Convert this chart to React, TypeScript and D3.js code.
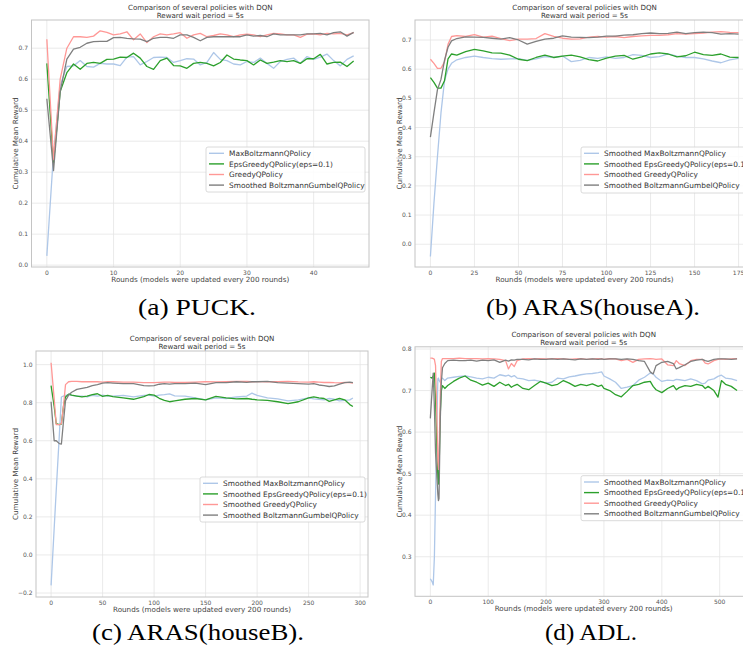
import React from 'react';
import * as d3 from 'd3';

const W = 743;
const H = 658;
const COLORS = ['#aec7e8', '#2ca02c', '#ff9896', '#7f7f7f'];
const FONT = 'DejaVu Sans, sans-serif';

// (a) PUCK
const roundsA = d3.range(47);
const maxBoltzA = [0.03, 0.36, 0.58, 0.641, 0.643, 0.66, 0.641, 0.639, 0.651, 0.649, 0.649, 0.644, 0.671, 0.673, 0.646, 0.657, 0.67, 0.671, 0.67, 0.654, 0.66, 0.666, 0.665, 0.646, 0.654, 0.686, 0.664, 0.66, 0.649, 0.646, 0.657, 0.654, 0.668, 0.651, 0.635, 0.657, 0.664, 0.668, 0.651, 0.673, 0.664, 0.671, 0.681, 0.66, 0.643, 0.664, 0.675];
const epsGreedyA = [0.651, 0.33, 0.56, 0.621, 0.649, 0.632, 0.651, 0.654, 0.651, 0.664, 0.665, 0.671, 0.67, 0.684, 0.668, 0.641, 0.632, 0.66, 0.668, 0.644, 0.643, 0.635, 0.651, 0.654, 0.651, 0.643, 0.654, 0.678, 0.665, 0.662, 0.66, 0.646, 0.662, 0.651, 0.655, 0.66, 0.657, 0.66, 0.651, 0.666, 0.666, 0.68, 0.649, 0.654, 0.655, 0.641, 0.659];
const greedyA = [0.729, 0.34, 0.6, 0.7, 0.737, 0.737, 0.735, 0.739, 0.756, 0.751, 0.743, 0.746, 0.753, 0.727, 0.746, 0.718, 0.737, 0.746, 0.743, 0.746, 0.75, 0.732, 0.743, 0.748, 0.737, 0.741, 0.746, 0.743, 0.737, 0.743, 0.745, 0.743, 0.737, 0.743, 0.748, 0.746, 0.743, 0.743, 0.735, 0.745, 0.746, 0.743, 0.748, 0.746, 0.748, 0.743, 0.75];
const gumbelA = [0.537, 0.305, 0.56, 0.665, 0.697, 0.703, 0.716, 0.721, 0.722, 0.722, 0.734, 0.735, 0.732, 0.73, 0.729, 0.721, 0.732, 0.735, 0.735, 0.732, 0.743, 0.743, 0.735, 0.724, 0.735, 0.737, 0.737, 0.737, 0.737, 0.737, 0.743, 0.739, 0.741, 0.737, 0.746, 0.743, 0.743, 0.743, 0.743, 0.746, 0.746, 0.748, 0.743, 0.75, 0.753, 0.739, 0.751];

// (b) ARAS houseA
const roundsB = [0, 2, 4, 6, 8, 10, 12, 15, 20, 25, 30, 35, 40, 45, 50, 55, 60, 65, 70, 75, 80, 85, 90, 95, 100, 105, 110, 115, 120, 125, 130, 135, 140, 145, 150, 155, 160, 165, 170, 175];
const maxBoltzB = [-0.042, 0.14, 0.3, 0.45, 0.56, 0.6, 0.62, 0.632, 0.64, 0.645, 0.64, 0.636, 0.634, 0.635, 0.636, 0.63, 0.635, 0.643, 0.64, 0.645, 0.626, 0.63, 0.64, 0.637, 0.642, 0.637, 0.64, 0.65, 0.647, 0.64, 0.643, 0.652, 0.645, 0.64, 0.64, 0.635, 0.628, 0.622, 0.632, 0.637];
const epsGreedyB = [0.571, 0.555, 0.535, 0.535, 0.56, 0.635, 0.652, 0.648, 0.66, 0.668, 0.663, 0.656, 0.655, 0.648, 0.634, 0.629, 0.64, 0.648, 0.64, 0.645, 0.648, 0.642, 0.633, 0.628, 0.638, 0.645, 0.647, 0.634, 0.642, 0.652, 0.656, 0.652, 0.642, 0.646, 0.658, 0.65, 0.647, 0.652, 0.641, 0.64];
const greedyB = [0.634, 0.62, 0.603, 0.603, 0.625, 0.685, 0.712, 0.715, 0.712, 0.718, 0.71, 0.713, 0.705, 0.698, 0.703, 0.703, 0.705, 0.722, 0.712, 0.706, 0.703, 0.704, 0.71, 0.712, 0.71, 0.712, 0.708, 0.712, 0.714, 0.716, 0.716, 0.718, 0.722, 0.72, 0.722, 0.724, 0.727, 0.729, 0.726, 0.725];
const gumbelB = [0.367, 0.45, 0.53, 0.565, 0.63, 0.675, 0.697, 0.705, 0.711, 0.71, 0.709, 0.706, 0.703, 0.708, 0.7, 0.686, 0.695, 0.703, 0.706, 0.714, 0.71, 0.709, 0.708, 0.71, 0.713, 0.713, 0.717, 0.718, 0.722, 0.724, 0.722, 0.723, 0.727, 0.722, 0.725, 0.727, 0.725, 0.72, 0.722, 0.72];

// (c) ARAS houseB
const roundsC = [0, 3, 5, 8, 10, 12, 14, 17, 20, 25, 30, 35, 40, 45, 50, 55, 60, 70, 80, 90, 95, 100, 105, 110, 115, 120, 130, 140, 150, 160, 170, 180, 190, 195, 200, 210, 220, 230, 240, 250, 255, 260, 265, 270, 275, 280, 285, 290, 293];
const maxBoltzC = [-0.16, 0.14, 0.34, 0.63, 0.83, 0.835, 0.838, 0.842, 0.838, 0.835, 0.835, 0.83, 0.838, 0.835, 0.84, 0.835, 0.835, 0.838, 0.83, 0.838, 0.84, 0.835, 0.84, 0.842, 0.846, 0.836, 0.835, 0.825, 0.815, 0.825, 0.822, 0.83, 0.835, 0.85, 0.838, 0.825, 0.82, 0.81, 0.815, 0.825, 0.82, 0.818, 0.815, 0.822, 0.818, 0.81, 0.812, 0.815, 0.825];
const epsGreedyC = [0.89, 0.78, 0.69, 0.685, 0.688, 0.78, 0.83, 0.845, 0.84, 0.835, 0.83, 0.835, 0.842, 0.847, 0.833, 0.838, 0.832, 0.825, 0.818, 0.832, 0.843, 0.84, 0.823, 0.812, 0.805, 0.81, 0.818, 0.822, 0.815, 0.833, 0.825, 0.82, 0.822, 0.818, 0.815, 0.812, 0.805, 0.795, 0.805, 0.825, 0.83, 0.825, 0.822, 0.807, 0.815, 0.822, 0.815, 0.79, 0.78];
const greedyC = [1.01, 0.82, 0.685, 0.685, 0.69, 0.78, 0.895, 0.91, 0.912, 0.912, 0.91, 0.91, 0.91, 0.91, 0.908, 0.91, 0.91, 0.908, 0.908, 0.905, 0.905, 0.905, 0.907, 0.908, 0.908, 0.906, 0.907, 0.908, 0.91, 0.909, 0.91, 0.912, 0.912, 0.91, 0.911, 0.91, 0.91, 0.912, 0.909, 0.908, 0.91, 0.908, 0.906, 0.907, 0.905, 0.904, 0.906, 0.905, 0.903];
const gumbelC = [0.805, 0.6, 0.6, 0.585, 0.583, 0.7, 0.81, 0.84, 0.855, 0.87, 0.875, 0.88, 0.89, 0.895, 0.903, 0.905, 0.903, 0.9, 0.9, 0.89, 0.888, 0.89, 0.897, 0.9, 0.898, 0.9, 0.9, 0.903, 0.895, 0.905, 0.905, 0.91, 0.907, 0.91, 0.91, 0.912, 0.905, 0.903, 0.9, 0.898, 0.9, 0.893, 0.89, 0.885, 0.888, 0.897, 0.905, 0.908, 0.905];

// (d) ADL
const roundsD = [0, 3, 5, 7, 9, 11, 13, 14, 15, 17, 19, 21, 25, 30, 40, 50, 60, 70, 80, 90, 100, 110, 120, 130, 135, 140, 145, 150, 160, 170, 180, 190, 200, 210, 220, 230, 240, 250, 260, 270, 280, 290, 296, 300, 310, 320, 330, 340, 350, 360, 370, 380, 385, 390, 400, 410, 420, 425, 430, 440, 450, 460, 470, 475, 480, 490, 497, 503, 510, 520, 530];
const maxBoltzD = [0.247, 0.24, 0.232, 0.3, 0.45, 0.6, 0.728, 0.73, 0.725, 0.72, 0.728, 0.73, 0.724, 0.73, 0.732, 0.734, 0.735, 0.733, 0.73, 0.728, 0.732, 0.73, 0.738, 0.735, 0.737, 0.733, 0.736, 0.73, 0.728, 0.724, 0.725, 0.722, 0.718, 0.72, 0.73, 0.728, 0.733, 0.735, 0.738, 0.74, 0.741, 0.743, 0.745, 0.735, 0.728, 0.72, 0.705, 0.708, 0.712, 0.725, 0.732, 0.742, 0.74, 0.732, 0.722, 0.725, 0.724, 0.727, 0.726, 0.724, 0.728, 0.724, 0.716, 0.718, 0.725, 0.728, 0.734, 0.737, 0.73, 0.728, 0.724];
const epsGreedyD = [0.732, 0.73, 0.735, 0.742, 0.68, 0.58, 0.49, 0.475, 0.5, 0.64, 0.7, 0.712, 0.705, 0.712, 0.722, 0.73, 0.735, 0.725, 0.72, 0.713, 0.718, 0.71, 0.72, 0.712, 0.715, 0.708, 0.712, 0.715, 0.705, 0.702, 0.712, 0.722, 0.718, 0.712, 0.715, 0.724, 0.718, 0.71, 0.715, 0.712, 0.716, 0.71, 0.713, 0.705, 0.7, 0.69, 0.685, 0.698, 0.712, 0.715, 0.72, 0.722, 0.71, 0.702, 0.695, 0.705, 0.712, 0.702, 0.707, 0.712, 0.71, 0.715, 0.712, 0.705, 0.71, 0.7, 0.684, 0.724, 0.715, 0.71, 0.7];
const greedyD = [0.778, 0.778, 0.777, 0.775, 0.76, 0.65, 0.53, 0.51, 0.54, 0.68, 0.77, 0.777, 0.777, 0.777, 0.777, 0.778, 0.777, 0.777, 0.777, 0.776, 0.777, 0.776, 0.775, 0.772, 0.752, 0.765, 0.758, 0.772, 0.776, 0.777, 0.776, 0.777, 0.776, 0.777, 0.777, 0.776, 0.775, 0.776, 0.777, 0.775, 0.776, 0.777, 0.776, 0.775, 0.777, 0.776, 0.772, 0.775, 0.768, 0.775, 0.776, 0.777, 0.776, 0.775, 0.776, 0.762, 0.76, 0.772, 0.765, 0.76, 0.772, 0.775, 0.775, 0.766, 0.764, 0.772, 0.775, 0.776, 0.775, 0.776, 0.777];
const gumbelD = [0.633, 0.7, 0.742, 0.66, 0.55, 0.5, 0.45, 0.435, 0.44, 0.62, 0.72, 0.755, 0.765, 0.772, 0.773, 0.772, 0.772, 0.773, 0.771, 0.773, 0.772, 0.774, 0.768, 0.773, 0.771, 0.774, 0.773, 0.775, 0.775, 0.774, 0.776, 0.775, 0.775, 0.776, 0.775, 0.776, 0.775, 0.774, 0.776, 0.775, 0.776, 0.775, 0.776, 0.775, 0.776, 0.776, 0.775, 0.776, 0.775, 0.772, 0.77, 0.745, 0.74, 0.76, 0.768, 0.77, 0.765, 0.752, 0.755, 0.762, 0.77, 0.773, 0.775, 0.772, 0.77, 0.775, 0.776, 0.776, 0.776, 0.775, 0.776];

const labelsA = ['MaxBoltzmannQPolicy', 'EpsGreedyQPolicy(eps=0.1)', 'GreedyQPolicy', 'Smoothed BoltzmannGumbelQPolicy'];
const labelsSmoothed = ['Smoothed MaxBoltzmannQPolicy', 'Smoothed EpsGreedyQPolicy(eps=0.1)', 'Smoothed GreedyQPolicy', 'Smoothed BoltzmannGumbelQPolicy'];

const ticksA = { x: [0, 10, 20, 30, 40], y: [0, 0.1, 0.2, 0.3, 0.4, 0.5, 0.6, 0.7] };
const ticksB = { x: [0, 25, 50, 75, 100, 125, 150, 175], y: [0, 0.1, 0.2, 0.3, 0.4, 0.5, 0.6, 0.7] };
const ticksC = { x: [0, 50, 100, 150, 200, 250, 300], y: [-0.2, 0, 0.2, 0.4, 0.6, 0.8, 1.0] };
const ticksD = { x: [0, 100, 200, 300, 400, 500], y: [0.3, 0.4, 0.5, 0.6, 0.7, 0.8] };

const captions = ['(a) PUCK.', '(b) ARAS(houseA).', '(c) ARAS(houseB).', '(d) ADL.'];

type Box = { left: number; right: number; top: number; bottom: number };
type Leg = { x: number; y: number; w: number; h: number };

function Panel(props: {
  box: Box; xDomain: number[]; yDomain: number[];
  ticks: { x: number[]; y: number[] };
  rounds: number[]; series: number[][]; labels: string[];
  legend: Leg; ylabelX: number; id: string;
}) {
  const { box, xDomain, yDomain, ticks, rounds, series, labels, legend, ylabelX, id } = props;
  const x = d3.scaleLinear().domain(xDomain).range([box.left, box.right]);
  const y = d3.scaleLinear().domain(yDomain).range([box.bottom, box.top]);
  const line = d3.line<number>().x((_, i) => x(rounds[i])).y((d) => y(d));
  const cx = (box.left + box.right) / 2;
  const cy = (box.top + box.bottom) / 2;
  const fy = d3.format('.1f');
  return (
    <g>
      <defs>
        <clipPath id={id}>
          <rect x={box.left} y={box.top} width={box.right - box.left} height={box.bottom - box.top} />
        </clipPath>
      </defs>
      <rect x={box.left} y={box.top} width={box.right - box.left} height={box.bottom - box.top} fill="#fff" />
      {ticks.x.map((t) => (
        <line key={'gx' + t} x1={x(t)} x2={x(t)} y1={box.top} y2={box.bottom} stroke="#e5e5e5" strokeWidth={0.8} />
      ))}
      {ticks.y.map((t) => (
        <line key={'gy' + t} x1={box.left} x2={box.right} y1={y(t)} y2={y(t)} stroke="#e5e5e5" strokeWidth={0.8} />
      ))}
      <g clipPath={`url(#${id})`}>
        {series.map((s, i) => (
          <path key={i} d={line(s) || ''} fill="none" stroke={COLORS[i]} strokeWidth={1.3} strokeLinejoin="round" />
        ))}
      </g>
      <rect x={box.left} y={box.top} width={box.right - box.left} height={box.bottom - box.top} fill="none" stroke="#c4c4c4" strokeWidth={1} />
      {ticks.x.map((t) => (
        <text key={'tx' + t} x={x(t)} y={box.bottom + 7.5} fontSize={6} fill="#555" textAnchor="middle" fontFamily={FONT}>{t}</text>
      ))}
      {ticks.y.map((t) => (
        <text key={'ty' + t} x={box.left - 3.5} y={y(t) + 2.1} fontSize={6} fill="#555" textAnchor="end" fontFamily={FONT}>{fy(t)}</text>
      ))}
      <text x={cx} y={box.top - 10} fontSize={7.1} fill="#333" textAnchor="middle" fontFamily={FONT}>Comparison of several policies with DQN</text>
      <text x={cx} y={box.top - 2} fontSize={7.1} fill="#333" textAnchor="middle" fontFamily={FONT}>Reward wait period = 5s</text>
      <text x={cx} y={box.bottom + 14.5} fontSize={7.2} fill="#444" textAnchor="middle" fontFamily={FONT}>Rounds (models were updated every 200 rounds)</text>
      <text transform={`translate(${ylabelX},${cy}) rotate(-90)`} fontSize={7.2} fill="#444" textAnchor="middle" fontFamily={FONT}>Cumulative Mean Reward</text>
      <rect x={legend.x} y={legend.y} width={legend.w} height={legend.h} rx={2} fill="#fff" fillOpacity={0.85} stroke="#d0d0d0" strokeWidth={0.8} />
      {labels.map((l, i) => {
        const ly = legend.y + 6.3 + i * 10.6;
        return (
          <g key={l}>
            <line x1={legend.x + 3} x2={legend.x + 18} y1={ly} y2={ly} stroke={COLORS[i]} strokeWidth={1.4} />
            <text x={legend.x + 23} y={ly + 2.6} fontSize={7.4} fill="#333" fontFamily={FONT}>{l}</text>
          </g>
        );
      })}
    </g>
  );
}

const CAPTION_FONT = 'Liberation Serif, serif';
// caption anchor points and target widths (Computer Modern look)
const captionPos = [
  { x: 197, y: 315, w: 118 },
  { x: 593, y: 315, w: 214 },
  { x: 198, y: 640, w: 212 },
  { x: 591, y: 640, w: 92 },
];

export default function App() {
  return (
    <svg width={W} height={H} style={{ position: 'absolute', left: 0, top: 0, background: '#fff' }}>
      <rect width={W} height={H} fill="#fff" />
      <Panel id="ca" box={{ left: 31.5, right: 369, top: 20, bottom: 267 }} xDomain={[-2.3, 48.3]} yDomain={[-0.006, 0.791]}
        ticks={ticksA} rounds={roundsA} series={[maxBoltzA, epsGreedyA, greedyA, gumbelA]} labels={labelsA}
        legend={{ x: 206, y: 147, w: 159, h: 45 }} ylabelX={18} />
      <Panel id="cb" box={{ left: 415, right: 754, top: 20, bottom: 267 }} xDomain={[-8.75, 183.75]} yDomain={[-0.078, 0.7685]}
        ticks={ticksB} rounds={roundsB} series={[maxBoltzB, epsGreedyB, greedyB, gumbelB]} labels={labelsSmoothed}
        legend={{ x: 581, y: 147, w: 180, h: 46 }} ylabelX={402} />
      <Panel id="cc" box={{ left: 36, right: 368, top: 351, bottom: 597 }} xDomain={[-14.65, 307.65]} yDomain={[-0.221, 1.0716]}
        ticks={ticksC} rounds={roundsC} series={[maxBoltzC, epsGreedyC, greedyC, gumbelC]} labels={labelsSmoothed}
        legend={{ x: 200, y: 477, w: 165, h: 45 }} ylabelX={18} />
      <Panel id="cd" box={{ left: 415, right: 752.4, top: 346.8, bottom: 596.3 }} xDomain={[-26.5, 556.5]} yDomain={[0.2047, 0.8053]}
        ticks={ticksD} rounds={roundsD} series={[maxBoltzD, epsGreedyD, greedyD, gumbelD]} labels={labelsSmoothed}
        legend={{ x: 581, y: 475.7, w: 180, h: 45 }} ylabelX={402} />
      {captions.map((c, i) => (
        <text key={c} x={captionPos[i].x} y={captionPos[i].y} fontSize={23} textAnchor="middle" fontFamily={CAPTION_FONT}
          fill="#000" textLength={captionPos[i].w} lengthAdjust="spacingAndGlyphs">{c}</text>
      ))}
    </svg>
  );
}
